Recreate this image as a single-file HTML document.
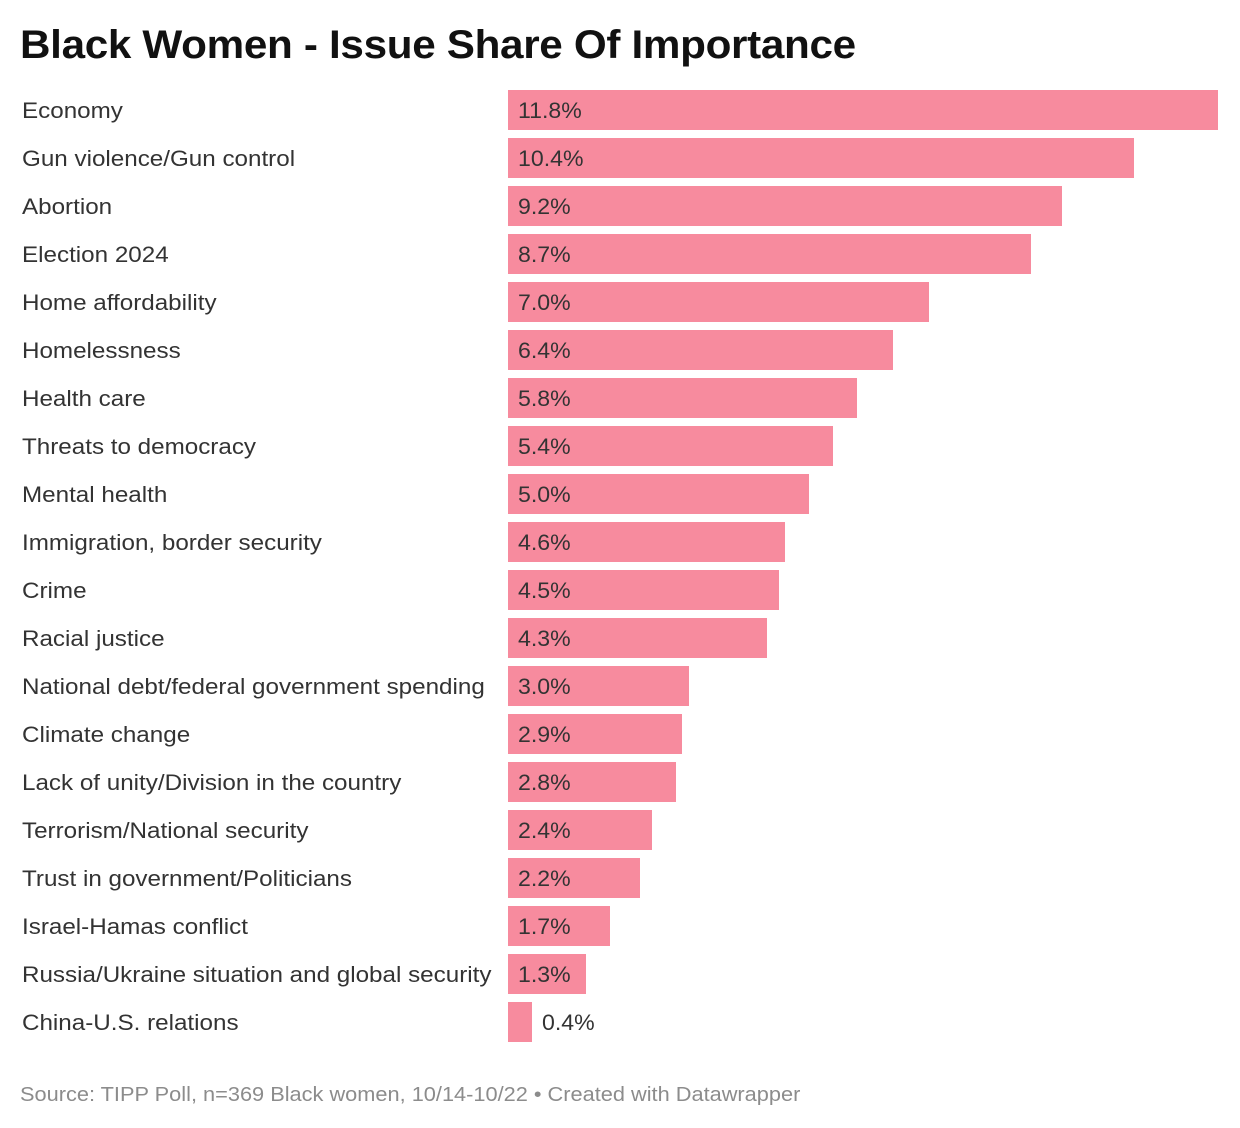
<!DOCTYPE html>
<html><head><meta charset="utf-8">
<style>
body{margin:0;background:#fff;font-family:"Liberation Sans",Arial,sans-serif;}
#wrap{position:relative;width:1240px;height:1128px;overflow:hidden;}
h1{position:absolute;left:20px;top:23px;margin:0;font-size:40px;font-weight:bold;color:#111;letter-spacing:-0.3px;transform:scaleX(1.055);transform-origin:0 0;white-space:nowrap;}
.lbl{position:absolute;left:22px;font-size:22px;color:#333;white-space:nowrap;line-height:42px;transform:scaleX(1.1);transform-origin:0 0;}
.bar{position:absolute;left:508px;height:40px;background:#f78b9e;}
.val{position:absolute;font-size:22px;color:#333;line-height:42px;white-space:nowrap;transform:scaleX(1.05);transform-origin:0 0;}
#foot{position:absolute;left:20px;top:1084px;font-size:20px;color:#8c8c8c;white-space:nowrap;transform:scaleX(1.088);transform-origin:0 0;}
</style></head><body>
<div id="wrap">
<h1>Black Women - Issue Share Of Importance</h1>
<div id="rows"></div>
<div id="foot">Source: TIPP Poll, n=369 Black women, 10/14-10/22 • Created with Datawrapper</div>
</div>
<script>
const categories=["Economy","Gun violence/Gun control","Abortion","Election 2024","Home affordability","Homelessness","Health care","Threats to democracy","Mental health","Immigration, border security","Crime","Racial justice","National debt/federal government spending","Climate change","Lack of unity/Division in the country","Terrorism/National security","Trust in government/Politicians","Israel-Hamas conflict","Russia/Ukraine situation and global security","China-U.S. relations"];
const values=[11.8,10.4,9.2,8.7,7.0,6.4,5.8,5.4,5.0,4.6,4.5,4.3,3.0,2.9,2.8,2.4,2.2,1.7,1.3,0.4];
const x0=508, scale=710/11.8, top0=90, pitch=48;
const xw=v=>v*scale;
const rows=document.getElementById('rows');
categories.forEach((c,i)=>{
  const y=top0+i*pitch;
  const l=document.createElement('div');
  
  
  l.className='lbl';l.style.top=y+'px';l.textContent=c;rows.appendChild(l);
  const b=document.createElement('div');
  
  
  const w=xw(values[i]);
  b.className='bar';b.style.top=y+'px';b.style.width=w+'px';rows.appendChild(b);
  const v=document.createElement('div');
  
  
  v.className='val';v.style.top=y+'px';
  v.style.left=(w>60?x0+10:x0+w+10)+'px';
  v.textContent=values[i].toFixed(1)+'%';rows.appendChild(v);
});
</script>
</body></html>
